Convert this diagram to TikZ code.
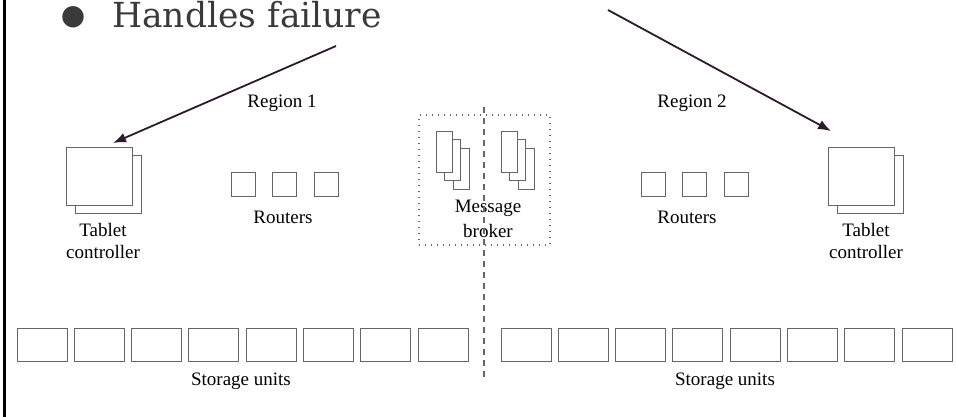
\documentclass[tikz,border=0pt]{standalone}
\usepackage{fontspec}
\setmainfont{Liberation Serif}
\newfontfamily\slidefont{DejaVu Serif}
\newfontfamily\symfont{DejaVu Sans}
\usetikzlibrary{positioning,calc,arrows.meta}
\definecolor{slidegray}{HTML}{3A3A3A}
\definecolor{boxgray}{HTML}{666666}
\definecolor{pointercol}{HTML}{2E1A2E}

\begin{document}
\begin{tikzpicture}[x=1pt,y=-1pt]
                        \tikzstyle{every node}=[inner sep=0,font=\fontsize{19}{22}\selectfont]
                        \tikzstyle{box}=[draw=boxgray,line width=1,fill=white,rectangle]
                        \tikzstyle{unit}=[box,minimum width=50,minimum height=33]
                        \tikzstyle{router}=[box,minimum width=24,minimum height=24]
                        \tikzstyle{tablet}=[box,minimum width=66,minimum height=58]
                        \tikzstyle{queue}=[box,minimum width=16,minimum height=41]
                        \tikzstyle{note}=[align=center]
                        \tikzstyle{pointer}=[draw=pointercol,line width=1.8,-{Latex[length=13,width=10]}]
                        \tikzstyle{divider}=[draw=boxgray,line width=1.1,dash pattern=on 6pt off 5pt]
                        \tikzstyle{dots}=[draw=boxgray,line width=1.2,dash pattern=on 1.2pt off 4.8pt,fill=none]
                        {
                            \useasboundingbox (0,0) rectangle (957,417);
                            \clip (0,0) rectangle (957,417);

                            % slide border and bullet
                            \draw[line width=3] (4,0) -- (4,417);
                            \node[font=\symfont\fontsize{28}{28}\selectfont,text=slidegray] (dot) at (73,17) {●};
                            \node[font=\slidefont\fontsize{34.5}{40}\selectfont,text=slidegray,anchor=base west] (hf) at (112,28) {Handles failure};

                            \node[anchor=base] (reg1) at (282,107) {Region 1};
                            \node[anchor=base] (reg2) at (692,107) {Region 2};

                            % tablet controllers
                            \node[tablet] (tc1b) at (108,184) {};
                            \node[tablet] (tc1) at (99,176) {};
                            \node[note] (tc1l) at (103,241) {Tablet\\controller};

                            \node[tablet] (tc2b) at (870.5,184) {};
                            \node[tablet] (tc2) at (861.5,176) {};
                            \node[note] (tc2l) at (866,241) {Tablet\\controller};

                            % routers
                            \node[router] (r1) at (243,184) {};
                            \node[router,right=16.5pt of r1] (r2) {};
                            \node[router,right=16.5pt of r2] (r3) {};
                            \node[anchor=base] (rl1) at (283,223) {Routers};

                            \node[router] (r4) at (653,184) {};
                            \node[router,right=16.5pt of r4] (r5) {};
                            \node[router,right=16.5pt of r5] (r6) {};
                            \node[anchor=base] (rl2) at (687,223) {Routers};

                            % message broker
                            \node[dots,minimum width=131,minimum height=130] (mb) at (484.5,180) {};
                            \node[queue] (q1c) at (461,168.5) {};
                            \node[queue] (q1b) at (452.5,160) {};
                            \node[queue] (q1a) at (444,151.5) {};
                            \node[queue] (q2c) at (526,168.5) {};
                            \node[queue] (q2b) at (517.5,160) {};
                            \node[queue] (q2a) at (509,151.5) {};
                            \node[note,font=\fontsize{19}{25}\selectfont] (mbl) at (488,219) {Message\\broker};

                            \coordinate (divtop) at (484,107);
                            \coordinate (divbot) at (484,377);
                            \draw[divider] (divtop) -- (divbot);

                            % storage units
                            \foreach \i in {1,...,8} {
                                \node[unit] (su\i) at ({42+57.3*(\i-1)},344.5) {};
                                \node[unit] (sv\i) at ({526+57.3*(\i-1)},344.5) {};
                            }
                            \node[anchor=base] (sul) at (241,385) {Storage units};
                            \node[anchor=base] (svl) at (725,385) {Storage units};

                            % pointers from the slide text
                            \coordinate (from1) at (336,46);
                            \coordinate (to1) at (113,143);
                            \coordinate (from2) at (608,10);
                            \coordinate (to2) at (831,131);
                            \draw[pointer] (from1) -- (to1);
                            \draw[pointer] (from2) -- (to2);
                        }
                    \end{tikzpicture}
\end{document}
